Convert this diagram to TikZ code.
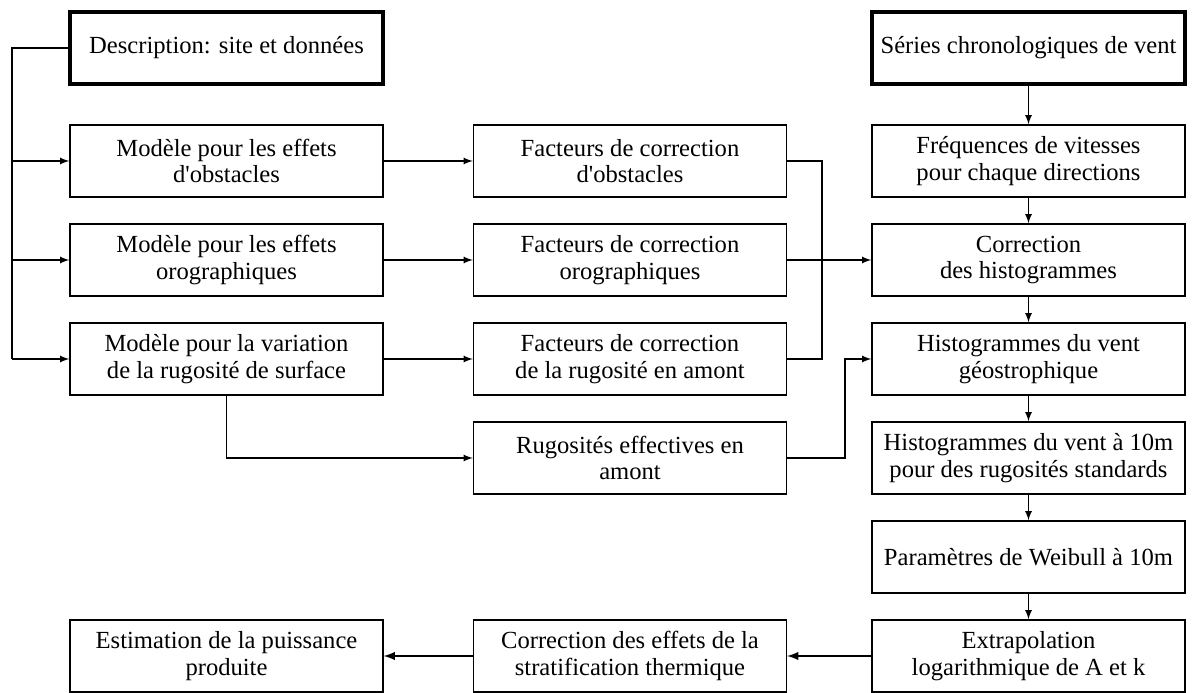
\documentclass[tikz,border=0pt]{standalone}
\usepackage{fontspec}
\setmainfont{Liberation Serif}
\usepackage{tikz}
\usetikzlibrary{arrows}

\begin{document}
\begin{tikzpicture}[>=latex,
  bloc/.style={draw, line width=0.8pt, minimum width=6.26cm, minimum height=1.44cm,
    align=center, inner sep=2pt, font=\fontsize{14}{15}\selectfont},
  debut/.style={bloc, line width=2.2pt},
  fleche/.style={->, line width=0.8pt}]
\useasboundingbox (0,0) rectangle (23.86,-13.86);
% colonne gauche
\node[debut] (desc) at (4.53,-0.96) {Description: site et données};
\node[bloc] (mobs) at (4.53,-3.22) {Modèle pour les effets\\d\textquotesingle obstacles};
\node[bloc] (moro) at (4.53,-5.2) {Modèle pour les effets\\orographiques};
\node[bloc] (mrug) at (4.53,-7.18) {Modèle pour la variation\\de la rugosité de surface};
\node[bloc] (estim) at (4.53,-13.12) {Estimation de la puissance\\produite};
% colonne du milieu
\node[bloc] (fobs) at (12.6,-3.22) {Facteurs de correction\\d\textquotesingle obstacles};
\node[bloc] (foro) at (12.6,-5.2) {Facteurs de correction\\orographiques};
\node[bloc] (frug) at (12.6,-7.18) {Facteurs de correction\\de la rugosité en amont};
\node[bloc] (reff) at (12.6,-9.16) {Rugosités effectives en\\amont};
\node[bloc] (strat) at (12.6,-13.12) {Correction des effets de la\\stratification thermique};
% colonne droite
\node[debut] (series) at (20.57,-0.96) {Séries chronologiques de vent};
\node[bloc] (freq) at (20.57,-3.22) {Fréquences de vitesses\\pour chaque directions};
\node[bloc] (corr) at (20.57,-5.2) {Correction\\des histogrammes};
\node[bloc] (geo) at (20.57,-7.18) {Histogrammes du vent\\géostrophique};
\node[bloc] (h10) at (20.57,-9.16) {Histogrammes du vent à 10m\\pour des rugosités standards};
\node[bloc] (weib) at (20.57,-11.14) {Paramètres de Weibull à 10m};
\node[bloc] (extra) at (20.57,-13.12) {Extrapolation\\logarithmique de A et k};
% liaisons a gauche
\draw[line width=0.8pt] (desc.west) -| (0.24,-7.18);
\draw[fleche] (0.24,-3.22) -- (mobs.west);
\draw[fleche] (0.24,-5.2) -- (moro.west);
\draw[fleche] (0.24,-7.18) -- (mrug.west);
\draw[fleche] (mobs) -- (fobs);
\draw[fleche] (moro) -- (foro);
\draw[fleche] (mrug) -- (frug);
\draw[fleche] (mrug.south) |- (reff.west);
% vers la colonne droite
\draw[line width=0.8pt] (fobs.east) -| (16.44,-7.18) -- (frug.east);
\draw[fleche] (foro) -- (corr);
\draw[fleche] (reff.east) -| (16.9,-7.18) -- (geo.west);
\draw[fleche] (series) -- (freq);
\draw[fleche] (freq) -- (corr);
\draw[fleche] (corr) -- (geo);
\draw[fleche] (geo) -- (h10);
\draw[fleche] (h10) -- (weib);
\draw[fleche] (weib) -- (extra);
\draw[fleche, line width=1.2pt] (extra) -- (strat);
\draw[fleche, line width=1.2pt] (strat) -- (estim);
\end{tikzpicture}
\end{document}
